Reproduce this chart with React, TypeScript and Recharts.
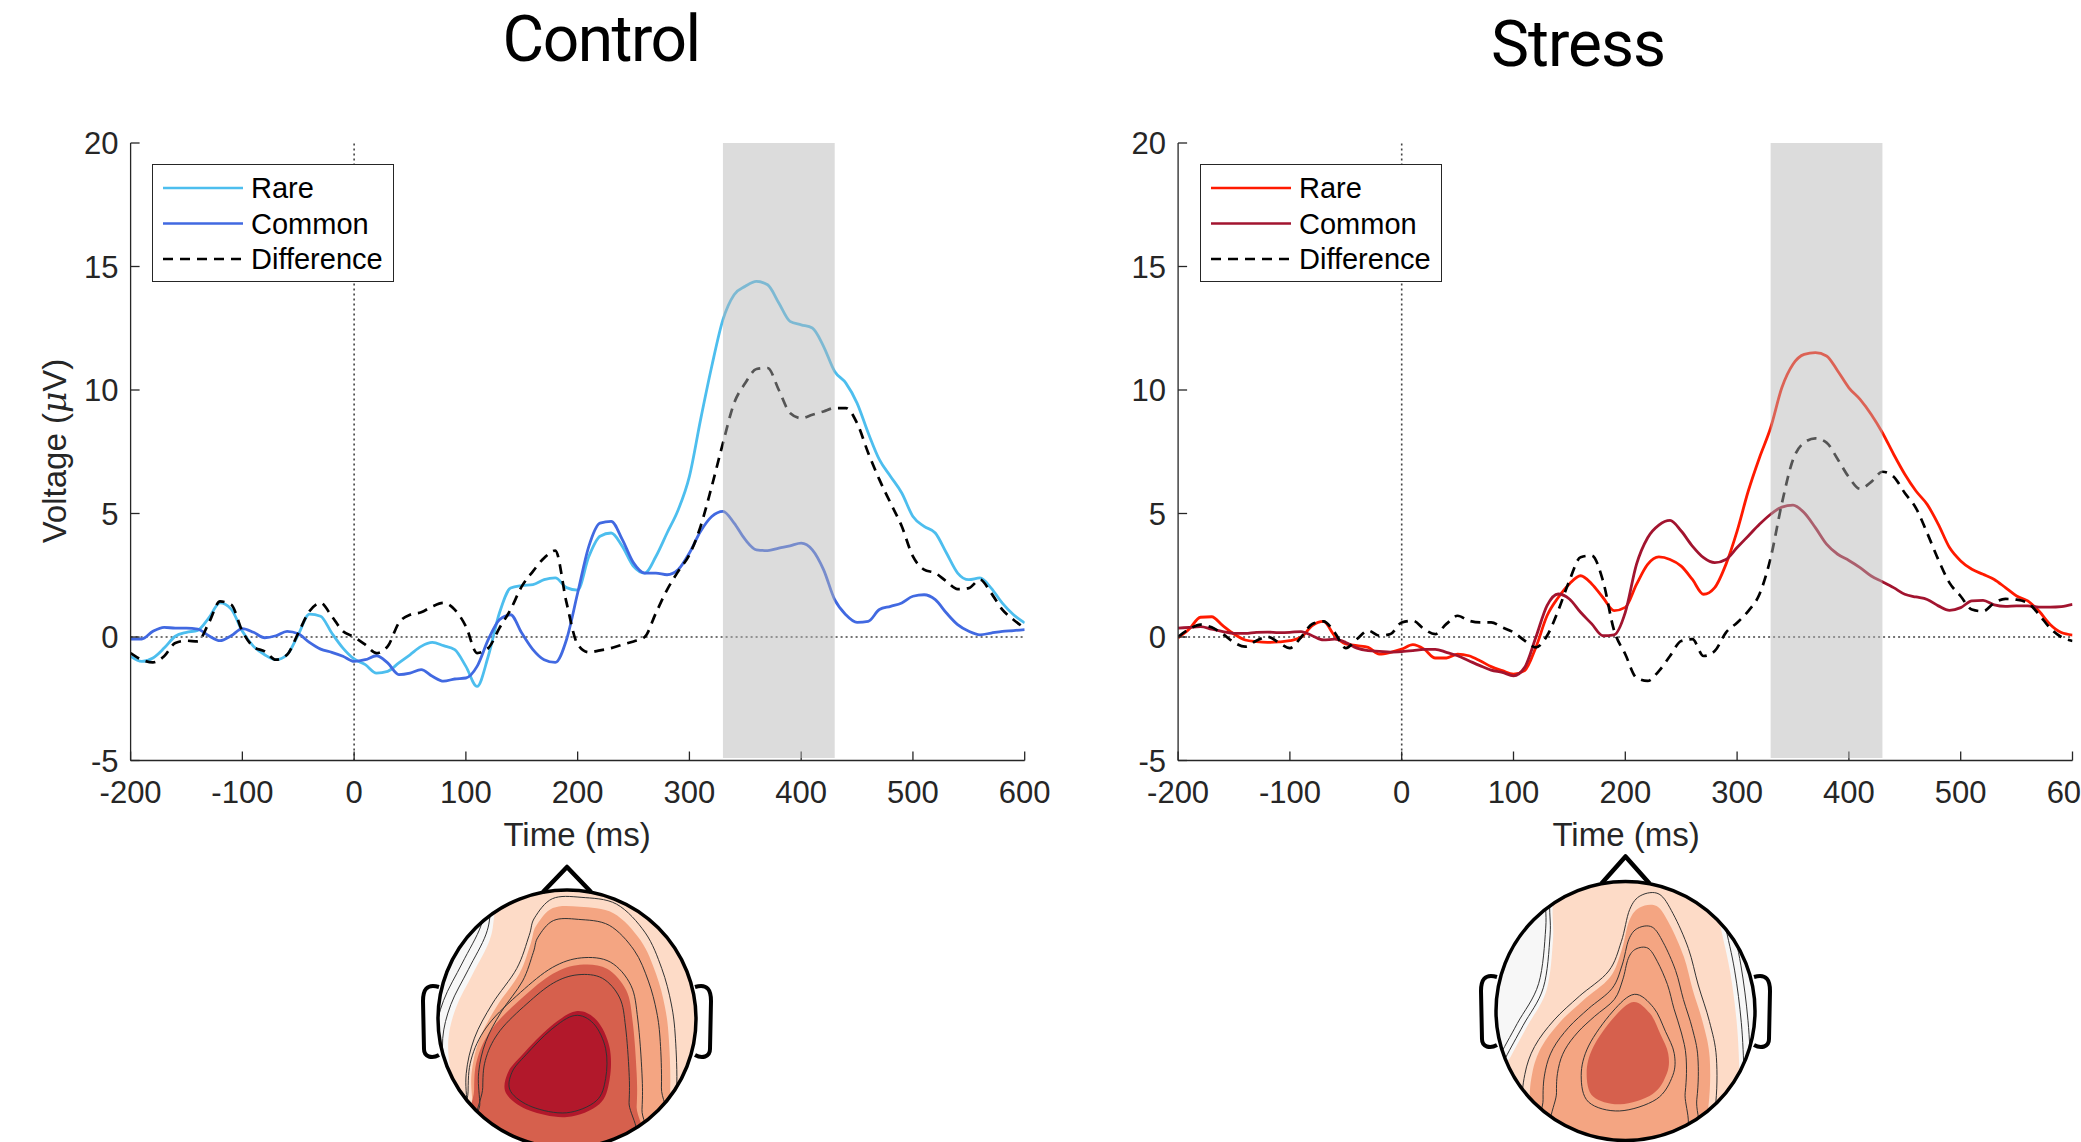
import React from 'react';
import { ComposedChart, Line, XAxis, YAxis, ReferenceLine, ReferenceArea, Legend } from 'recharts';

// ---------- data ----------
const times = [
  -200, -190, -180, -170, -160, -150, -140, -130, -120, -110,
  -100, -90, -80, -70, -60, -50, -40, -30, -20, -10,
  0, 10, 20, 30, 40, 50, 60, 70, 80, 90,
  100, 110, 120, 130, 140, 150, 160, 170, 180, 190,
  200, 210, 220, 230, 240, 250, 260, 270, 280, 290,
  300, 310, 320, 330, 340, 350, 360, 370, 380, 390,
  400, 410, 420, 430, 440, 450, 460, 470, 480, 490,
  500, 510, 520, 530, 540, 550, 560, 570, 580, 590, 600,
];

const controlRare = [
  -0.78, -0.99, -0.85, -0.45, 0.03, 0.19, 0.27, 0.77, 1.38, 1.13,
  0.23, -0.38, -0.72, -0.92, -0.72, 0.09, 0.93, 0.84, 0.16, -0.45,
  -0.89, -1.12, -1.46, -1.39, -1.05, -0.72, -0.38, -0.22, -0.35, -0.51,
  -1.19, -2.0, -0.78, 0.97, 1.98, 2.08, 2.12, 2.32, 2.39, 2.0,
  1.9, 3.26, 4.08, 4.21, 3.67, 2.86, 2.59, 3.26, 4.21, 5.15,
  6.5, 8.8, 10.96, 12.85, 13.86, 14.2, 14.4, 14.26, 13.52, 12.78,
  12.64, 12.51, 11.77, 10.75, 10.28, 9.47, 8.26, 7.18, 6.5, 5.83,
  4.88, 4.48, 4.21, 3.4, 2.59, 2.32, 2.39, 1.98, 1.37, 0.9, 0.57,
];

const controlCommon = [
  -0.08, -0.08, 0.23, 0.39, 0.36, 0.36, 0.32, 0.05, -0.15, 0.05,
  0.34, 0.19, -0.03, 0.05, 0.23, 0.13, -0.22, -0.49, -0.62, -0.78,
  -0.99, -0.92, -0.76, -1.05, -1.52, -1.46, -1.32, -1.59, -1.79, -1.7,
  -1.66, -1.19, -0.11, 0.7, 0.9, 0.16, -0.51, -0.92, -1.03, -0.11,
  1.78, 3.67, 4.61, 4.68, 3.94, 3.0, 2.59, 2.59, 2.52, 2.73,
  3.4, 4.28, 4.88, 5.09, 4.61, 3.94, 3.53, 3.5, 3.6, 3.69,
  3.8, 3.53, 2.73, 1.51, 0.9, 0.59, 0.63, 1.11, 1.24, 1.38,
  1.65, 1.71, 1.51, 0.97, 0.5, 0.23, 0.09, 0.16, 0.23, 0.26, 0.3,
];

const controlDiff = [
  -0.65, -0.92, -1.03, -0.78, -0.24, -0.15, -0.18, 0.57, 1.44, 1.31,
  0.23, -0.4, -0.58, -0.92, -0.72, 0.16, 1.04, 1.38, 0.84, 0.23,
  0.0, -0.31, -0.65, -0.38, 0.57, 0.9, 1.0, 1.24, 1.38, 1.11,
  0.43, -0.65, -0.45, 0.36, 1.11, 2.05, 2.66, 3.2, 3.5, 1.4,
  -0.3, -0.62, -0.54, -0.45, -0.31, -0.18, 0.0, 0.97, 1.91, 2.66,
  3.33, 4.48, 6.1, 7.85, 9.47, 10.28, 10.85, 10.89, 10.0, 9.07,
  8.86, 9.0, 9.13, 9.27, 9.27, 8.66, 7.45, 6.37, 5.42, 4.48,
  3.26, 2.73, 2.59, 2.25, 1.94, 1.98, 2.32, 1.78, 1.11, 0.7, 0.36,
];

const stressRare = [
  -0.04, 0.32, 0.8, 0.82, 0.46, 0.12, -0.12, -0.19, -0.22, -0.2,
  -0.15, -0.01, 0.46, 0.63, 0.05, -0.28, -0.35, -0.42, -0.69, -0.62,
  -0.49, -0.31, -0.49, -0.85, -0.85, -0.69, -0.76, -0.96, -1.2, -1.36,
  -1.5, -1.36, -0.42, 0.86, 1.6, 2.15, 2.48, 2.15, 1.6, 1.07,
  1.2, 2.13, 2.94, 3.24, 3.14, 2.87, 2.33, 1.73, 2.0, 2.94,
  4.29, 5.91, 7.26, 8.47, 10.09, 11.04, 11.44, 11.51, 11.38, 10.77,
  10.09, 9.62, 9.01, 8.27, 7.4, 6.59, 5.91, 5.37, 4.56, 3.62,
  3.08, 2.74, 2.54, 2.33, 2.0, 1.66, 1.46, 1.05, 0.51, 0.18, 0.08,
];

const stressCommon = [
  0.36, 0.39, 0.42, 0.32, 0.22, 0.15, 0.15, 0.19, 0.2, 0.18,
  0.19, 0.22, 0.05, -0.12, -0.09, -0.22, -0.45, -0.55, -0.58, -0.61,
  -0.59, -0.55, -0.5, -0.5, -0.62, -0.76, -0.96, -1.16, -1.34, -1.43,
  -1.57, -1.23, -0.01, 1.27, 1.74, 1.54, 1.0, 0.53, 0.05, 0.09,
  1.0, 2.94, 4.02, 4.53, 4.72, 4.29, 3.68, 3.21, 3.01, 3.14,
  3.62, 4.09, 4.56, 4.97, 5.26, 5.34, 5.03, 4.43, 3.76, 3.35,
  3.1, 2.81, 2.47, 2.24, 2.0, 1.73, 1.62, 1.52, 1.26, 1.08,
  1.19, 1.46, 1.48, 1.3, 1.24, 1.26, 1.26, 1.21, 1.21, 1.23, 1.32,
];

const stressDiff = [
  0.01, 0.32, 0.5, 0.39, 0.12, -0.22, -0.39, -0.15, 0.01, -0.22,
  -0.45, -0.01, 0.53, 0.63, 0.19, -0.45, -0.08, 0.26, 0.05, 0.12,
  0.59, 0.66, 0.32, 0.12, 0.53, 0.86, 0.66, 0.59, 0.59, 0.39,
  0.19, -0.15, -0.42, 0.05, 1.07, 2.28, 3.23, 3.3, 2.28, 0.26,
  -0.7, -1.65, -1.78, -1.38, -0.77, -0.16, -0.09, -0.77, -0.57, 0.18,
  0.58, 1.05, 1.73, 3.2, 5.4, 7.18, 7.87, 8.04, 7.87, 7.2,
  6.47, 6.0, 6.28, 6.69, 6.49, 5.83, 5.22, 4.21, 3.13, 2.19,
  1.65, 1.11, 1.04, 1.38, 1.54, 1.51, 1.38, 0.91, 0.36, 0.0, -0.16,
];

const xTicks = [-200, -100, 0, 100, 200, 300, 400, 500, 600];
const yTicks = [-5, 0, 5, 10, 15, 20];
const windowStart = 330;
const windowEnd = 430;
const seriesNames = ['Rare', 'Common', 'Difference'];

const FONT = '"Liberation Sans", Arial, Helvetica, sans-serif';
const AX = '#262626';

const buildRows = (rare: number[], common: number[], diff: number[]) =>
  times.map((t, i) => ({ t, rare: rare[i], common: common[i], diff: diff[i] }));

const XTick = (props: any) => {
  const { x, y, payload } = props;
  return (
    <g>
      <line x1={x} x2={x} y1={y} y2={y - 9} stroke={AX} strokeWidth={1.3} />
      <text x={x} y={y + 42} textAnchor="middle" fontSize={31} fill={AX} fontFamily={FONT}>
        {payload.value}
      </text>
    </g>
  );
};

const YTick = (props: any) => {
  const { x, y, payload } = props;
  return (
    <g>
      <line x1={x} x2={x + 9} y1={y} y2={y} stroke={AX} strokeWidth={1.3} />
      <text x={x - 12} y={y + 11} textAnchor="end" fontSize={31} fill={AX} fontFamily={FONT}>
        {payload.value}
      </text>
    </g>
  );
};

const LegendBox = ({ colors }: { colors: string[] }) => (
  <div style={{ width: 242, height: 118, border: '1.5px solid #262626', background: '#fff', boxSizing: 'border-box', position: 'relative' }}>
    <svg width={242} height={118} style={{ position: 'absolute', left: -1.5, top: -1.5 }}>
      {seriesNames.map((n, i) => {
        const cy = 24 + i * 35.5;
        return (
          <g key={n}>
            <line x1={11} x2={91} y1={cy} y2={cy} stroke={colors[i]} strokeWidth={2.6}
              strokeDasharray={i === 2 ? '10 7' : undefined} />
            <text x={99} y={cy + 10} fontSize={29} fill="#000" fontFamily={FONT}>{n}</text>
          </g>
        );
      })}
    </svg>
  </div>
);

type PanelProps = {
  rows: any[];
  colors: string[];
  width: number;
  height: number;
  margin: { top: number; left: number; right: number; bottom: number };
  legendLeft: number;
  legendTop: number;
};

const Panel = ({ rows, colors, width, height, margin, legendLeft, legendTop }: PanelProps) => (
  <ComposedChart width={width} height={height} data={rows} margin={margin}>
    <XAxis dataKey="t" type="number" domain={[-200, 600]} ticks={xTicks} height={1}
      tick={<XTick />} tickLine={false} tickSize={0} tickMargin={0} interval={0}
      axisLine={{ stroke: AX, strokeWidth: 1.3 }} allowDataOverflow />
    <YAxis type="number" domain={[-5, 20]} ticks={yTicks} width={1}
      tick={<YTick />} tickLine={false} tickSize={0} tickMargin={0} interval={0}
      axisLine={{ stroke: AX, strokeWidth: 1.3 }} allowDataOverflow />
    <ReferenceLine x={0} stroke="#444" strokeWidth={1.6} strokeDasharray="2 3" />
    <ReferenceLine y={0} stroke="#444" strokeWidth={1.6} strokeDasharray="2 3" />
    <Line dataKey="rare" type="monotone" stroke={colors[0]} strokeWidth={2.8} dot={false} isAnimationActive={false} />
    <Line dataKey="common" type="monotone" stroke={colors[1]} strokeWidth={2.8} dot={false} isAnimationActive={false} />
    <Line dataKey="diff" type="monotone" stroke={colors[2]} strokeWidth={2.7} strokeDasharray="10 7" dot={false} isAnimationActive={false} />
    <ReferenceArea x1={windowStart} x2={windowEnd} y1={-4.9} y2={20} fill="#b4b4b4" fillOpacity={0.47} stroke="none"
      {...({ zIndex: 2000 } as any)} />
    <Legend layout="vertical" align="center" verticalAlign="middle"
      wrapperStyle={{ position: 'absolute', left: legendLeft, top: legendTop, width: 242, height: 118 }}
      content={() => <LegendBox colors={colors} />} />
  </ComposedChart>
);

// ---------- topographic maps (decorative) ----------
type Pt = [number, number];
const smoothPath = (pts: Pt[], cx: number, cy: number, r: number, s = 1, ox = 0, oy = 0) => {
  const P = pts.map(([x, y]) => [cx + (ox + (x - ox) * s) * r, cy + (oy + (y - oy) * s) * r]);
  const n = P.length;
  let d = `M${P[0][0]},${P[0][1]}`;
  for (let i = 0; i < n; i++) {
    const p0 = P[(i - 1 + n) % n], p1 = P[i], p2 = P[(i + 1) % n], p3 = P[(i + 2) % n];
    const c1x = p1[0] + (p2[0] - p0[0]) / 6, c1y = p1[1] + (p2[1] - p0[1]) / 6;
    const c2x = p2[0] - (p3[0] - p1[0]) / 6, c2y = p2[1] - (p3[1] - p1[1]) / 6;
    d += ` C${c1x},${c1y} ${c2x},${c2y} ${p2[0]},${p2[1]}`;
  }
  return d + 'Z';
};

const topoControl = {
  cx: 567, cy: 1019, r: 129, center: [-0.05, 0.35] as Pt,
  layers: [
    { fill: '#fddbc7', pts: [[-0.56, -0.83], [-0.6, -0.61], [-0.73, -0.35], [-0.86, -0.09], [-0.92, 0.16], [-0.9, 0.42], [-0.83, 0.63], [-0.9, 1.3], [1.3, 1.3], [1.3, -1.3], [-0.5, -1.3]] as Pt[] },
    { fill: '#f4a582', pts: [[-0.24, -0.72], [-0.11, -0.86], [0.1, -0.87], [0.36, -0.82], [0.57, -0.61], [0.69, -0.35], [0.76, -0.09], [0.79, 0.16], [0.8, 0.55], [0.77, 1.07], [-0.7, 1.07], [-0.73, 0.68], [-0.74, 0.42], [-0.68, 0.16], [-0.55, -0.09], [-0.37, -0.35], [-0.28, -0.59]] as Pt[] },
    { fill: '#d6604d', pts: [[0.1, -0.42], [0.31, -0.39], [0.46, -0.22], [0.51, 0.03], [0.54, 0.42], [0.54, 0.68], [0.51, 1.07], [-0.7, 1.07], [-0.72, 0.55], [-0.69, 0.29], [-0.57, 0.06], [-0.34, -0.17], [-0.11, -0.35]] as Pt[] },
    { fill: '#b2182b', pts: [[0.07, -0.06], [0.23, 0.01], [0.33, 0.22], [0.33, 0.47], [0.25, 0.66], [0.0, 0.76], [-0.29, 0.71], [-0.47, 0.58], [-0.46, 0.42], [-0.34, 0.27], [-0.13, 0.06]] as Pt[] },
  ],
  lines: [[1, 1.12], [1, 1.05], [2, 0.92], [2, 1.06], [3, 0.9], [3, 1.07], [4, 0.92]],
  ear: [-32, 38],
  nose: 23,
};

const topoStress = {
  cx: 1625.5, cy: 1011, r: 129.5, center: [0.0, 0.35] as Pt,
  layers: [
    { fill: '#fddbc7', pts: [[-0.56, -0.83], [-0.56, -0.55], [-0.61, -0.16], [-0.76, 0.12], [-0.89, 0.36], [-0.94, 0.48], [-1.0, 1.3], [0.88, 1.3], [0.88, 0.74], [0.88, 0.48], [0.86, 0.1], [0.81, -0.29], [0.73, -0.67], [0.6, -1.3], [-0.5, -1.3]] as Pt[] },
    { fill: '#f4a582', pts: [[0.03, -0.7], [0.11, -0.8], [0.24, -0.81], [0.34, -0.67], [0.45, -0.42], [0.52, -0.16], [0.6, 0.1], [0.65, 0.36], [0.64, 0.74], [0.55, 1.26], [-0.71, 1.26], [-0.74, 0.74], [-0.72, 0.48], [-0.65, 0.28], [-0.51, 0.09], [-0.33, -0.08], [-0.12, -0.26], [-0.03, -0.47]] as Pt[] },
    { fill: '#d6604d', pts: [[0.06, -0.07], [0.19, 0.02], [0.27, 0.18], [0.33, 0.33], [0.32, 0.48], [0.21, 0.64], [-0.04, 0.72], [-0.25, 0.66], [-0.3, 0.48], [-0.25, 0.28], [-0.09, 0.05]] as Pt[] },
  ],
  lines: [[1, 1.1], [1, 1.04], [2, 1.08], [2, 0.86], [2, 0.72], [3, 1.14]],
  ear: [-34, 36],
  nose: 25,
};

const Topo = ({ spec, id }: { spec: any; id: string }) => {
  const { cx, cy, r, layers, lines, center, ear, nose } = spec;
  const [ox, oy] = center;
  return (
    <g>
      <defs>
        <clipPath id={id}><circle cx={cx} cy={cy} r={r} /></clipPath>
      </defs>
      <g clipPath={`url(#${id})`}>
        <rect x={cx - r} y={cy - r} width={2 * r} height={2 * r} fill="#f7f7f7" />
        {layers.map((l: any, i: number) => <path key={i} d={smoothPath(l.pts, cx, cy, r)} fill={l.fill} />)}
        {lines.map(([li, s]: number[], i: number) => (
          <path key={'l' + i} d={smoothPath(layers[li - 1].pts, cx, cy, r, s, ox, oy)} fill="none" stroke="#333" strokeWidth={1} />
        ))}
      </g>
      <circle cx={cx} cy={cy} r={r} fill="none" stroke="#000" strokeWidth={3.5} />
      <polyline points={`${cx - 24},${cy - r + 2} ${cx},${cy - r - nose} ${cx + 24},${cy - r + 2}`} fill="none" stroke="#000" strokeWidth={4.5} strokeLinejoin="round" />
      <path d={`M${cx - r + 1},${cy + ear[0]} C${cx - r - 12},${cy + ear[0] - 4} ${cx - r - 15},${cy + ear[0] + 4} ${cx - r - 15},${cy + ear[0] + 14} L${cx - r - 14},${cy + ear[1] - 8} C${cx - r - 14},${cy + ear[1]} ${cx - r - 6},${cy + ear[1] + 2} ${cx - r + 1},${cy + ear[1] - 2}`} fill="none" stroke="#000" strokeWidth={4} />
      <path d={`M${cx + r - 1},${cy + ear[0]} C${cx + r + 12},${cy + ear[0] - 4} ${cx + r + 15},${cy + ear[0] + 4} ${cx + r + 15},${cy + ear[0] + 14} L${cx + r + 14},${cy + ear[1] - 8} C${cx + r + 14},${cy + ear[1]} ${cx + r + 6},${cy + ear[1] + 2} ${cx + r - 1},${cy + ear[1] - 2}`} fill="none" stroke="#000" strokeWidth={4} />
    </g>
  );
};

export default function App() {
  const controlRows = buildRows(controlRare, controlCommon, controlDiff);
  const stressRows = buildRows(stressRare, stressCommon, stressDiff);
  const controlColors = ['#4DBEEE', '#4169E1', '#000000'];
  const stressColors = ['#FF1A00', '#A2142F', '#000000'];
  const titleFont = 'Roboto, "Liberation Sans", sans-serif';
  return (
    <div style={{ position: 'absolute', left: 0, top: 0, width: 2081, height: 1142, overflow: 'hidden', background: '#fff', fontFamily: FONT }}>
      <div style={{ position: 'absolute', left: 0, top: 0 }}>
        <Panel rows={controlRows} colors={controlColors} width={1060} height={860}
          margin={{ top: 143, left: 129.6, right: 1060 - 1024.7, bottom: 860 - 760.5 - 1 }}
          legendLeft={152} legendTop={164} />
      </div>
      <div style={{ position: 'absolute', left: 1040, top: 0 }}>
        <Panel rows={stressRows} colors={stressColors} width={1041} height={860}
          margin={{ top: 143, left: 137.1, right: 1041 - 1032.5, bottom: 860 - 760.5 - 1 }}
          legendLeft={160} legendTop={164} />
      </div>
      <svg width={2081} height={1142} style={{ position: 'absolute', left: 0, top: 0, pointerEvents: 'none' }}>
        <text x={601} y={61} textAnchor="middle" fontSize={64} letterSpacing={-1.5} fontFamily={titleFont} fill="#000">Control</text>
        <text x={1578} y={66} textAnchor="middle" fontSize={64} letterSpacing={-1} fontFamily={titleFont} fill="#000">Stress</text>
        <text x={577} y={846} textAnchor="middle" fontSize={33} fontFamily={FONT} fill={AX}>Time (ms)</text>
        <text x={1626} y={846} textAnchor="middle" fontSize={33} fontFamily={FONT} fill={AX}>Time (ms)</text>
        <text x={0} y={0} transform="translate(66,451) rotate(-90)" textAnchor="middle" fontSize={33} fontFamily={FONT} fill={AX}>
          Voltage (<tspan fontStyle="italic" fontFamily='"DejaVu Serif", serif'>μ</tspan>V)
        </text>
        <Topo spec={topoControl} id="clipControl" />
        <Topo spec={topoStress} id="clipStress" />
      </svg>
    </div>
  );
}
